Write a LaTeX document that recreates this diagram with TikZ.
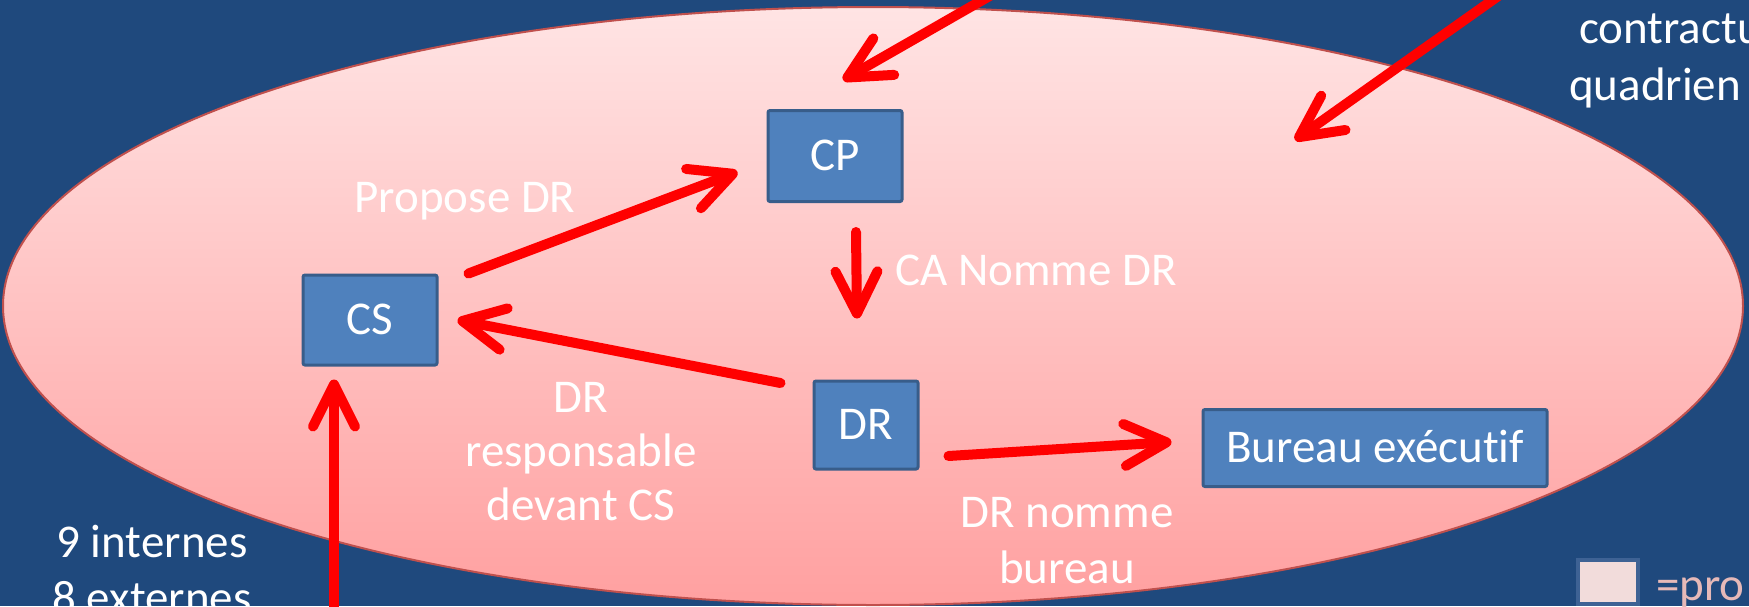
\documentclass[tikz,border=0pt]{standalone}
\usepackage{fontspec}
\setmainfont{Carlito}[Ligatures=NoCommon]
\usetikzlibrary{arrows.meta}
\definecolor{bgblue}{RGB}{31,73,125}
\definecolor{boxfill}{RGB}{79,129,189}
\definecolor{boxline}{RGB}{56,93,138}
\definecolor{ellline}{RGB}{192,80,77}
\definecolor{elltop}{RGB}{255,228,228}
\definecolor{ellbot}{RGB}{255,160,160}
\definecolor{legfill}{RGB}{242,220,219}
\definecolor{legline}{RGB}{62,98,148}
\definecolor{legtext}{RGB}{230,185,184}
\begin{document}
\begin{tikzpicture}[x=1pt,y=-1pt,
  box/.style={draw=boxline, fill=boxfill, line width=3pt, rounded corners=2pt, text=white,
    font=\fontsize{47}{55}\selectfont, text height=29pt, text depth=0pt, inner sep=0pt},
  lbl/.style={text=white, font=\fontsize{47}{55}\selectfont, inner sep=0pt, anchor=base},
  rarrow/.style={draw=red, line width=10pt, line cap=round,
    -{Straight Barb[length=42pt,width=42pt,round]}},
]
\useasboundingbox (0,0) rectangle (1749,606);
\fill[bgblue] (0,0) rectangle (1749,606);
\path[draw=ellline, line width=2pt, top color=elltop, bottom color=ellbot]
  (873,306) ellipse [x radius=870pt, y radius=299pt];

% boxes
\node[box, minimum width=134pt, minimum height=91pt] (CP) at (835,156) {CP};
\node[box, minimum width=134pt, minimum height=90pt] (CS) at (370,320) {CS};
\node[box, minimum width=104pt, minimum height=88pt] (DR) at (866,425) {DR};
\node[box, minimum width=344pt, minimum height=77pt] (BE) at (1375,448) {Bureau exécutif};

% free ends
\coordinate (topsrc) at (1035,-30);
\coordinate (trsrc) at (1535,-30);
\coordinate (trtip) at (1295,140);
\coordinate (botsrc) at (334,650);

% arrows
\draw[rarrow] (topsrc) -- ([shift={(8,-29)}]CP.north);
\draw[rarrow] (trsrc) -- (trtip);
\draw[rarrow] ([shift={(30,0)}]CS.north east) -- ([shift={(-29,16)}]CP.west);
\draw[rarrow] ([shift={(21,29)}]CP.south) -- ([shift={(-9,-61)}]DR.north);
\draw[rarrow] ([shift={(-32,-42)}]DR.west) -- ([shift={(19,0)}]CS.east);
\draw[rarrow] ([shift={(29,31)}]DR.east) -- ([shift={(-30,-6)}]BE.west);
\draw[rarrow] (botsrc) -- ([shift={(-36,13)}]CS.south);

% labels
\node[lbl] (lprop) at (465,212) {Propose DR};
\node[lbl] (lca) at (1036,285) {CA Nomme DR};
\node[lbl] (lresp1) at (581,412) {DR};
\node[lbl] (lresp2) at (581,466) {responsable};
\node[lbl] (lresp3) at (581,520) {devant CS};
\node[lbl] (lnom1) at (1067,527) {DR nomme};
\node[lbl] (lnom2) at (1067,583) {bureau};
\node[lbl] (lint1) at (152,557) {9 internes};
\node[lbl] (lint2) at (152,613) {8 externes};
\node[lbl, anchor=base west] (lcon) at (1579,43) {contractu};
\node[lbl, anchor=base west] (lqua) at (1569,100) {quadrien};

% legend
\node[draw=legline, fill=legfill, line width=4pt, minimum width=60pt, minimum height=44pt, inner sep=0pt] (leg) at (1608,582) {};
\node[lbl, text=legtext, anchor=base west] (legt) at (1656,600) {=pro};
\end{tikzpicture}
\end{document}
